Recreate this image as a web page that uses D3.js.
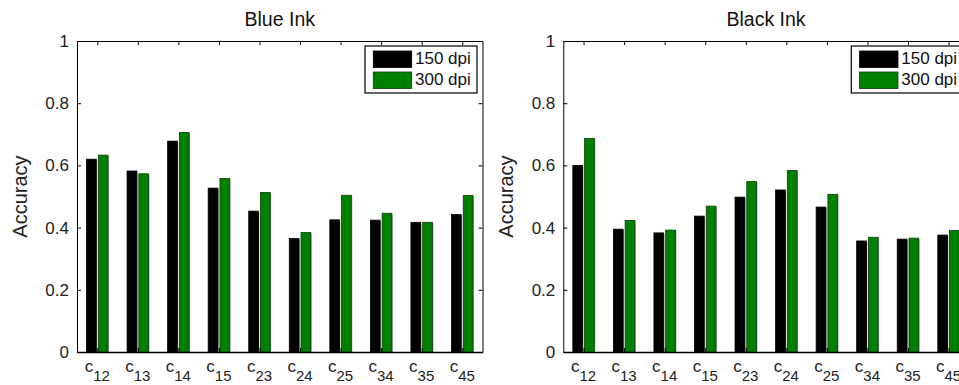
<!DOCTYPE html>
<html>
<head>
<meta charset="utf-8">
<script src="https://cdn.jsdelivr.net/npm/d3@7"></script>
<style>
  body { margin: 0; background: #fff; }
  svg { display: block; font-family: "Liberation Sans", Arial, Helvetica, sans-serif; }
</style>
</head>
<body>
<div id="chart"></div>
<script>
// category subscripts (c_12 ... c_45)
const categories = ["12", "13", "14", "15", "23", "24", "25", "34", "35", "45"];

// Blue Ink accuracies
const blue150 = [0.620, 0.582, 0.678, 0.527, 0.453, 0.365, 0.425, 0.424, 0.417, 0.442];
const blue300 = [0.633, 0.573, 0.706, 0.558, 0.513, 0.384, 0.504, 0.446, 0.417, 0.503];

// Black Ink accuracies
const black150 = [0.600, 0.395, 0.383, 0.437, 0.498, 0.521, 0.466, 0.357, 0.363, 0.376];
const black300 = [0.687, 0.423, 0.392, 0.469, 0.548, 0.584, 0.507, 0.369, 0.366, 0.391];

const seriesNames = ["150 dpi", "300 dpi"];
const yTicks = [0, 0.2, 0.4, 0.6, 0.8, 1];

const width = 959;
const height = 385;

//plot area of one panel, panels are shifted horizontally
const plotLeft = 77;
const plotWidth = 405.5;
const marginTop = 41;
const plotBottom = 352;
const panelShift = 486.3;

const colors = ["#000000", "#008000"];
const edgeColors = ["#000000", "#0b3d0b"];
const barWidth = 0.24;   // in category units
const barOffset = 0.145; // half distance between the two bar centres

const svg = d3.select("#chart").append("svg")
    .attr("width", width)
    .attr("height", height)
    .attr("viewBox", [0, 0, width, height]);

function drawPanel(left, title, values150, values300) {
    const x = d3.scaleLinear()
        .domain([0.5, categories.length + 0.5])
        .range([left, left + plotWidth]);
    const y = d3.scaleLinear()
        .domain([0, 1])
        .range([plotBottom, marginTop]);

    const g = svg.append("g");

    const series = [values150, values300];
    series.forEach((vals, s) => {
        const offset = s === 0 ? -barOffset : barOffset;
        const bars = g.append("g").selectAll("g")
            .data(vals.map((v, i) => ({ i: i + 1, v })))
            .join("g");
        //light grey shadow on the right of each bar
        bars.append("rect")
            .attr("x", d => x(d.i + offset - barWidth / 2) + 1)
            .attr("width", x(barWidth) - x(0))
            .attr("y", d => y(d.v) + 1)
            .attr("height", d => y(0) - y(d.v) - 1)
            .attr("fill", "#a8a8a8");
        bars.append("rect")
            .attr("x", d => x(d.i + offset - barWidth / 2))
            .attr("width", x(barWidth) - x(0))
            .attr("y", d => y(d.v))
            .attr("height", d => y(0) - y(d.v))
            .attr("fill", colors[s])
            .attr("stroke", edgeColors[s])
            .attr("stroke-width", 0.8);
    });

    const ticksX = d3.range(1, categories.length + 1);

    // bottom axis (ticks pointing inwards, labels added by hand below)
    g.append("g")
        .attr("transform", `translate(0,${plotBottom})`)
        .call(d3.axisBottom(x).tickValues(ticksX).tickSize(-4).tickFormat("").tickSizeOuter(0))
        .call(a => a.select(".domain").attr("stroke-width", 1.6));
    // top axis
    g.append("g")
        .attr("transform", `translate(0,${marginTop})`)
        .call(d3.axisTop(x).tickValues(ticksX).tickSize(-4).tickFormat("").tickSizeOuter(0));
    // left axis
    g.append("g")
        .attr("transform", `translate(${left},0)`)
        .call(d3.axisLeft(y).tickValues(yTicks).tickSize(-4).tickPadding(8).tickFormat(d3.format("~g")).tickSizeOuter(0))
        .call(a => a.selectAll("text").attr("font-size", 17).attr("fill", "#222").attr("font-family", null));
    // right axis
    g.append("g")
        .attr("transform", `translate(${left + plotWidth},0)`)
        .call(d3.axisRight(y).tickValues(yTicks).tickSize(-4).tickFormat("").tickSizeOuter(0));

    g.selectAll(".domain, .tick line").attr("stroke", "#000");

    // category labels c with subscript
    const labels = g.append("g").selectAll("text")
        .data(categories)
        .join("text")
        .attr("x", (d, i) => x(i + 1))
        .attr("y", 371.5)
        .attr("text-anchor", "middle")
        .attr("font-size", 17)
        .attr("fill", "#222");
    labels.append("tspan").text("c");
    labels.append("tspan")
        .attr("dy", 9.5)
        .attr("font-size", 15)
        .text(d => d);

    // title
    g.append("text")
        .attr("x", left + plotWidth / 2)
        .attr("y", 26)
        .attr("text-anchor", "middle")
        .attr("font-size", 19.5)
        .attr("fill", "#111")
        .text(title);

    // y label
    g.append("text")
        .attr("transform", `translate(${left - 50},${(marginTop + plotBottom) / 2}) rotate(-90)`)
        .attr("text-anchor", "middle")
        .attr("font-size", 20)
        .attr("fill", "#222")
        .text("Accuracy");

    // legend
    const lg = g.append("g").attr("transform", `translate(${left + 288},46)`);
    lg.append("rect")
        .attr("width", 112).attr("height", 47)
        .attr("fill", "#fff").attr("stroke", "#000").attr("stroke-width", 1.2);
    seriesNames.forEach((name, s) => {
        lg.append("rect")
            .attr("x", 8.3).attr("y", 5 + s * 21)
            .attr("width", 38.4).attr("height", 16.5)
            .attr("fill", colors[s])
            .attr("stroke", edgeColors[s]).attr("stroke-width", 0.8);
        lg.append("text")
            .attr("x", 50).attr("y", 17.5 + s * 21.5)
            .attr("font-size", 17)
            .attr("fill", "#111")
            .text(name);
    });
}

drawPanel(plotLeft, "Blue Ink", blue150, blue300);
drawPanel(plotLeft + panelShift, "Black Ink", black150, black300);
</script>
</body>
</html>
